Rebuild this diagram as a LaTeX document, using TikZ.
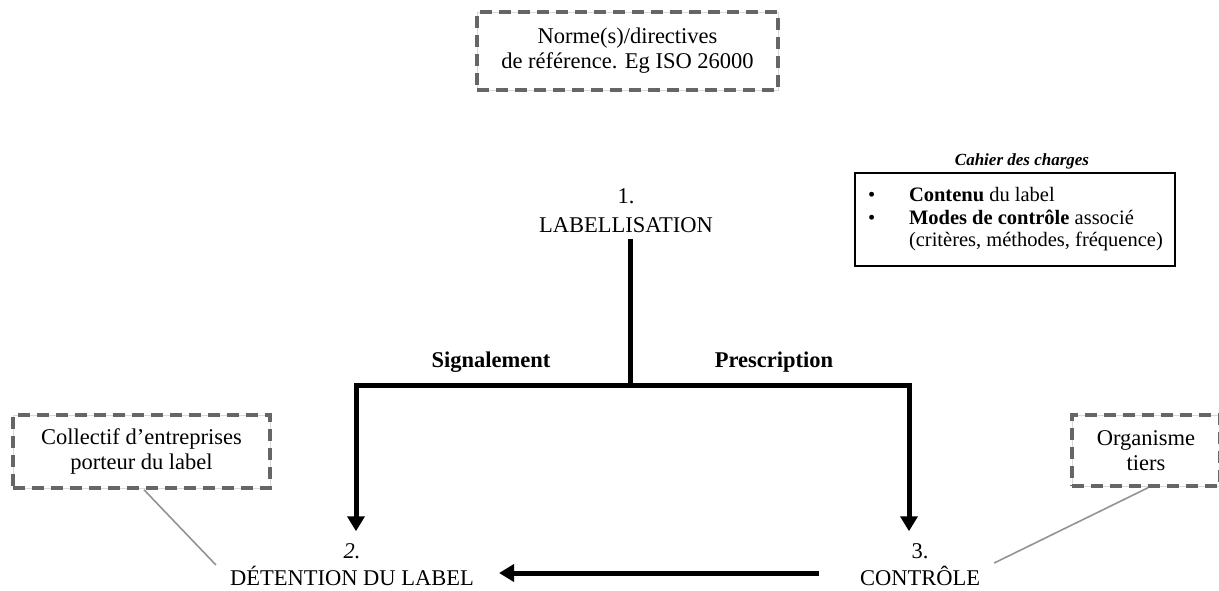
\documentclass[tikz,border=0pt]{standalone}
\usepackage{fontspec}
\setmainfont{Liberation Serif}
\usetikzlibrary{arrows.meta,calc}
\tikzset{
  big/.style={font=\fontsize{22.5}{25}\selectfont, align=center, inner sep=0pt},
  lbl/.style={font=\fontsize{22.5}{27}\selectfont, align=center, inner sep=0pt},
  dbox/.style={big, preaction={draw=gray!30, line width=0.8pt, solid},
    draw=gray!80!black, line width=3.5pt, dash pattern=on 12pt off 7pt},
  thick line/.style={line width=5pt, draw=black},
  arr/.style={thick line, -{Triangle[width=17pt,length=15pt]}},
  thin/.style={draw=gray!85, line width=1.6pt},
}
\begin{document}
\begin{tikzpicture}[x=1pt,y=-1pt]
\useasboundingbox (0,0) rectangle (1219,590);
% dashed boxes
\node[dbox, minimum width=301pt, minimum height=78pt] (norme) at (627.5,51) {Norme(s)/directives\\de référence. Eg ISO 26000};
\node[dbox, minimum width=257pt, minimum height=73pt] (coll) at (141.5,451.5) {Collectif d’entreprises\\porteur du label};
\node[dbox, minimum width=148pt, minimum height=71pt] (org) at (1146,450.5) {Organisme\\tiers};
% cahier des charges
\node[font=\fontsize{17}{20}\selectfont\bfseries\itshape, inner sep=0pt] (cdc) at (1022,161) {Cahier des charges};
\node[draw, line width=1.5pt, minimum width=320pt, minimum height=93pt, inner xsep=13pt, inner ysep=0pt,
      font=\fontsize{20.5}{22.5}\selectfont] (box) at (1015,219.5)
 {\makebox[294pt][l]{\begin{tabular}{@{}p{41pt}@{}l@{}}
  \textbullet & \textbf{Contenu} du label\\
  \textbullet & \textbf{Modes de contrôle} associé\\
   & (critères, méthodes, fréquence)
  \end{tabular}}};
% main labels
\node[lbl, font=\fontsize{22.5}{29}\selectfont] (lab) at (626,211) {1.\\LABELLISATION};
\node[lbl] (det) at (352,564.5) {\textit{2.}\\DÉTENTION DU LABEL};
\node[lbl] (ctl) at (920,564.5) {3.\\CONTRÔLE};
\node[font=\fontsize{22.5}{25}\selectfont\bfseries, inner sep=0pt] (sig) at (491,362) {Signalement};
\node[font=\fontsize{22.5}{25}\selectfont\bfseries, inner sep=0pt] (pre) at (774,362) {Prescription};
% tree
\coordinate (j) at (630,385);
\coordinate (jl) at (356,385);
\coordinate (jr) at (909,385);
\draw[thick line] (lab.south -| j) ++(0,6) -- (j);
\draw[thick line, line cap=rect] (jl) -- (jr);
\draw[arr] (jl) -- (jl |- det.north) [shorten >=12pt];
\draw[arr] (jr) -- (jr |- ctl.north) [shorten >=12pt];
\draw[arr] ($(ctl.west)+(-41,8.5)$) -- ($(det.east)+(25,8.5)$);
% thin connectors
\draw[thin] (coll.south) ++(2.5,0) -- ($(det.west)+(-14,0.5)$);
\draw[thin] (org.south) ++(2,0) -- ($(ctl.east)+(14,-1.5)$);
\end{tikzpicture}
\end{document}
